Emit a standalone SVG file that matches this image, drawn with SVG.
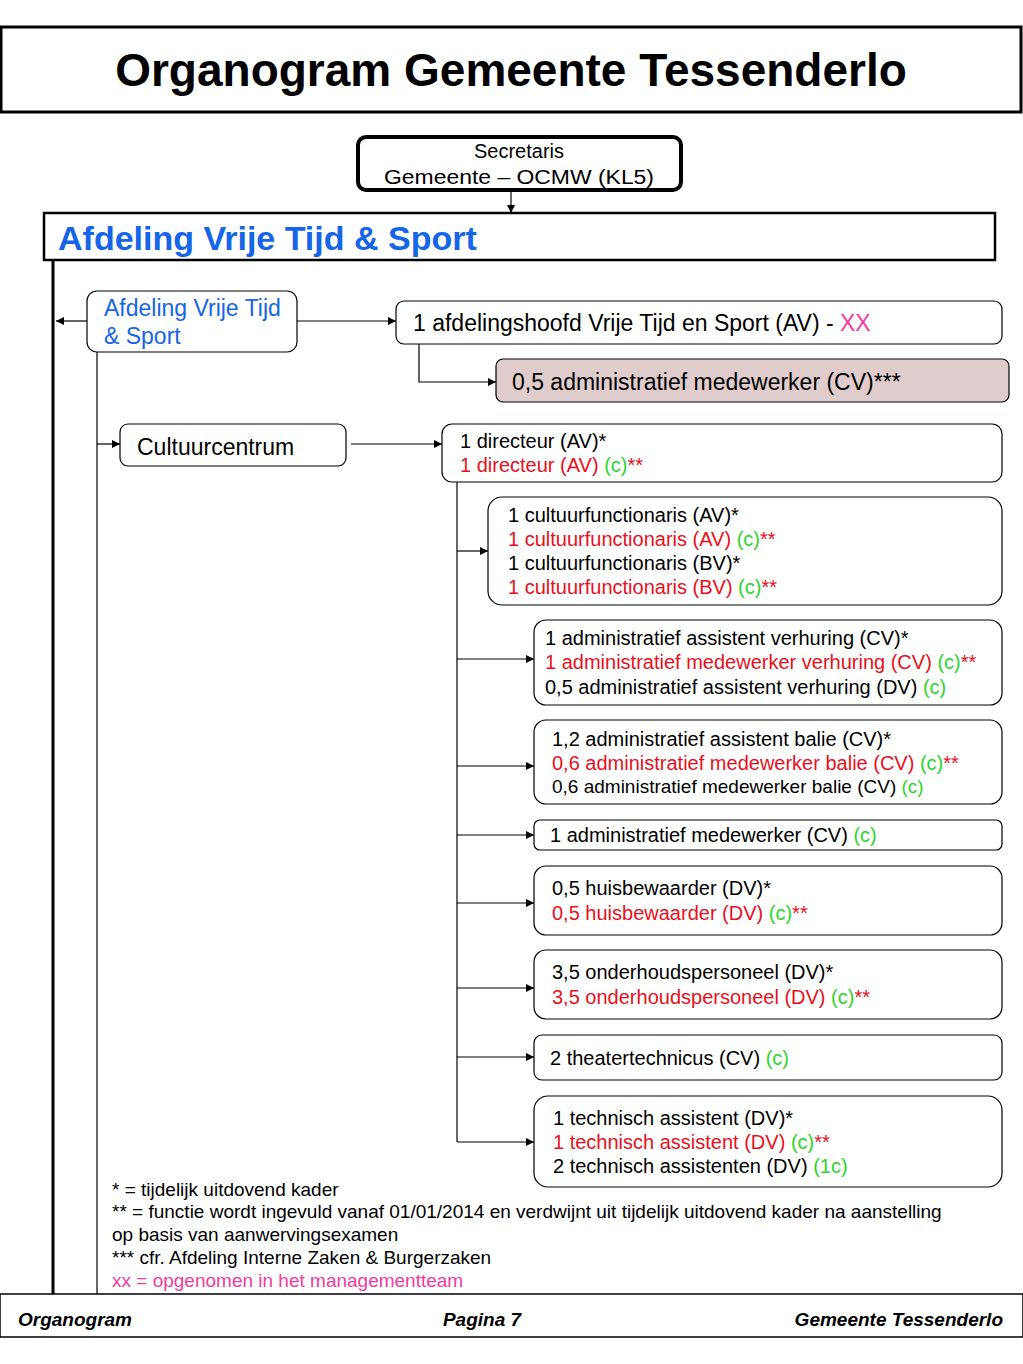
<svg xmlns="http://www.w3.org/2000/svg" width="1023" height="1364" viewBox="0 0 1023 1364">
<style>
text{font-family:"Liberation Sans",Arial,sans-serif;fill:#000}
.box{fill:#fff;stroke:#000;stroke-width:1.2}
.t17{font-size:20px}
.t20{font-size:23px}
.r{fill:#e8101c}
.g{fill:#2fd42f}
.p{fill:#f03c9c}
.b{fill:#1565e8}
.ln{fill:none;stroke:#000;stroke-width:1.2}
.ft{font-size:19px;font-weight:bold;font-style:italic}
.fn{font-size:19px}
</style>
<defs>
<marker id="ah" viewBox="0 0 10 10" refX="10" refY="5" markerWidth="8" markerHeight="8" markerUnits="userSpaceOnUse" orient="auto">
<path d="M0,0 L10,5 L0,10 z" fill="#000"/>
</marker>
</defs>
<rect width="1023" height="1364" fill="#fff"/>

<g id="title">
<rect x="1" y="27" width="1020" height="85" fill="#fff" stroke="#000" stroke-width="3"/>
<text x="511" y="86" text-anchor="middle" font-size="46" font-weight="bold">Organogram Gemeente Tessenderlo</text>
</g>

<g id="connectors">
<line class="ln" x1="511" y1="191" x2="511" y2="213" marker-end="url(#ah)"/>
<line x1="53" y1="260" x2="53" y2="1294" stroke="#000" stroke-width="3"/>
<line class="ln" x1="87" y1="321" x2="56" y2="321" marker-end="url(#ah)"/>
<line class="ln" x1="297" y1="321" x2="396" y2="321" marker-end="url(#ah)"/>
<polyline class="ln" points="419,344 419,382 496,382" marker-end="url(#ah)"/>
<line class="ln" x1="97" y1="352" x2="97" y2="1294"/>
<line class="ln" x1="97" y1="444" x2="120" y2="444" marker-end="url(#ah)"/>
<line class="ln" x1="351" y1="444" x2="442" y2="444" marker-end="url(#ah)"/>
<line class="ln" x1="457" y1="482" x2="457" y2="1142"/>
<line class="ln" x1="457" y1="551" x2="488" y2="551" marker-end="url(#ah)"/>
<line class="ln" x1="457" y1="659" x2="534" y2="659" marker-end="url(#ah)"/>
<line class="ln" x1="457" y1="766" x2="534" y2="766" marker-end="url(#ah)"/>
<line class="ln" x1="457" y1="835" x2="534" y2="835" marker-end="url(#ah)"/>
<line class="ln" x1="457" y1="903" x2="534" y2="903" marker-end="url(#ah)"/>
<line class="ln" x1="457" y1="988" x2="534" y2="988" marker-end="url(#ah)"/>
<line class="ln" x1="457" y1="1057" x2="534" y2="1057" marker-end="url(#ah)"/>
<line class="ln" x1="457" y1="1142" x2="534" y2="1142" marker-end="url(#ah)"/>
</g>

<g id="secretaris">
<rect x="358" y="137" width="323" height="53" rx="8" fill="#fff" stroke="#000" stroke-width="4"/>
<text x="519" y="158" font-size="20" text-anchor="middle">Secretaris</text>
<text x="519" y="184" font-size="20" text-anchor="middle" textLength="270" lengthAdjust="spacingAndGlyphs">Gemeente – OCMW (KL5)</text>
</g>

<g id="afdeling-header">
<rect x="44" y="213" width="951" height="47" fill="#fff" stroke="#000" stroke-width="2.5"/>
<text class="b" x="58" y="250" font-size="34" font-weight="bold">Afdeling Vrije Tijd &amp; Sport</text>
</g>

<g id="afdeling-node">
<rect class="box" x="87" y="291" width="210" height="61" rx="10"/>
<text class="t20 b" x="104" y="316">Afdeling Vrije Tijd</text>
<text class="t20 b" x="104" y="344">&amp; Sport</text>
</g>

<g id="afdelingshoofd">
<rect class="box" x="396" y="301" width="606" height="43" rx="8"/>
<text class="t20" x="413" y="331">1 afdelingshoofd Vrije Tijd en Sport (AV) - <tspan class="p">XX</tspan></text>
</g>

<g id="admin-medewerker">
<rect x="496" y="359" width="513" height="43" rx="7" fill="#e0cccc" stroke="#000" stroke-width="1.2"/>
<text class="t20" x="512" y="390">0,5 administratief medewerker (CV)***</text>
</g>

<g id="cultuurcentrum">
<rect class="box" x="120" y="424" width="226" height="42" rx="8"/>
<text class="t20" x="137" y="455">Cultuurcentrum</text>
</g>

<g id="directeur">
<rect class="box" x="442" y="424" width="560" height="58" rx="10"/>
<text class="t17" x="460" y="448">1 directeur (AV)*</text>
<text class="t17 r" x="460" y="472">1 directeur (AV) <tspan class="g">(c)</tspan>**</text>
</g>

<g id="cultuurfunctionaris">
<rect class="box" x="488" y="497" width="514" height="108" rx="14"/>
<text class="t17" x="508" y="522">1 cultuurfunctionaris (AV)*</text>
<text class="t17 r" x="508" y="546">1 cultuurfunctionaris (AV) <tspan class="g">(c)</tspan>**</text>
<text class="t17" x="508" y="570">1 cultuurfunctionaris (BV)*</text>
<text class="t17 r" x="508" y="594">1 cultuurfunctionaris (BV) <tspan class="g">(c)</tspan>**</text>
</g>

<g id="verhuring">
<rect class="box" x="534" y="620" width="468" height="85" rx="12"/>
<text class="t17" x="545" y="645">1 administratief assistent verhuring (CV)*</text>
<text class="t17 r" x="545" y="669">1 administratief medewerker verhuring (CV) <tspan class="g">(c)</tspan>**</text>
<text class="t17" x="545" y="694">0,5 administratief assistent verhuring (DV) <tspan class="g">(c)</tspan></text>
</g>

<g id="balie">
<rect class="box" x="534" y="720" width="468" height="84" rx="12"/>
<text class="t17" x="552" y="746">1,2 administratief assistent balie (CV)*</text>
<text class="t17 r" x="552" y="770">0,6 administratief medewerker balie (CV) <tspan class="g">(c)</tspan>**</text>
<text x="552" y="793" font-size="19">0,6 administratief medewerker balie (CV) <tspan class="g">(c)</tspan></text>
</g>

<g id="administratief-medewerker">
<rect class="box" x="534" y="820" width="468" height="30" rx="6"/>
<text class="t17" x="550" y="842">1 administratief medewerker (CV) <tspan class="g">(c)</tspan></text>
</g>

<g id="huisbewaarder">
<rect class="box" x="534" y="866" width="468" height="69" rx="12"/>
<text class="t17" x="552" y="895">0,5 huisbewaarder (DV)*</text>
<text class="t17 r" x="552" y="920">0,5 huisbewaarder (DV) <tspan class="g">(c)</tspan>**</text>
</g>

<g id="onderhoudspersoneel">
<rect class="box" x="534" y="950" width="468" height="69" rx="12"/>
<text class="t17" x="552" y="979">3,5 onderhoudspersoneel (DV)*</text>
<text class="t17 r" x="552" y="1004">3,5 onderhoudspersoneel (DV) <tspan class="g">(c)</tspan>**</text>
</g>

<g id="theatertechnicus">
<rect class="box" x="534" y="1035" width="468" height="45" rx="8"/>
<text class="t17" x="550" y="1065">2 theatertechnicus (CV) <tspan class="g">(c)</tspan></text>
</g>

<g id="technisch-assistent">
<rect class="box" x="534" y="1096" width="468" height="91" rx="14"/>
<text class="t17" x="553" y="1125">1 technisch assistent (DV)*</text>
<text class="t17 r" x="553" y="1149">1 technisch assistent (DV) <tspan class="g">(c)</tspan>**</text>
<text class="t17" x="553" y="1173">2 technisch assistenten (DV) <tspan class="g">(1c)</tspan></text>
</g>

<g id="legend">
<text class="fn" x="112" y="1196">* = tijdelijk uitdovend kader</text>
<text class="fn" x="112" y="1218">** = functie wordt ingevuld vanaf 01/01/2014 en verdwijnt uit tijdelijk uitdovend kader na aanstelling</text>
<text class="fn" x="112" y="1241">op basis van aanwervingsexamen</text>
<text class="fn" x="112" y="1264">*** cfr. Afdeling Interne Zaken &amp; Burgerzaken</text>
<text class="fn p" x="112" y="1287">xx = opgenomen in het managementteam</text>
</g>

<g id="footer">
<rect x="0" y="1294" width="1023" height="43" fill="#fff" stroke="#000" stroke-width="1.5"/>
<text class="ft" x="18" y="1326">Organogram</text>
<text class="ft" x="482" y="1326" text-anchor="middle">Pagina 7</text>
<text class="ft" x="1003" y="1326" text-anchor="end">Gemeente Tessenderlo</text>
</g>
</svg>
